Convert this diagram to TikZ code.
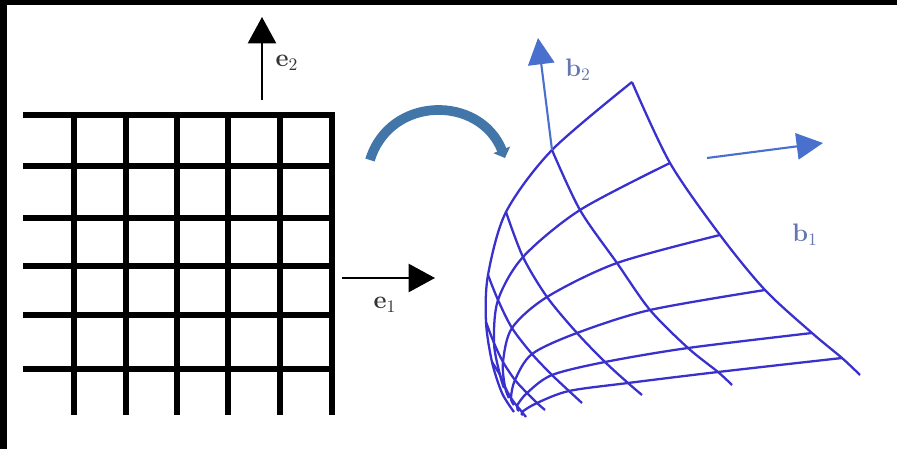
\documentclass[tikz,border=0pt]{standalone}
\usepackage{amsmath,amssymb}
\usepackage{xcolor}
\usepackage{tikz}
\usetikzlibrary{arrows.meta}

\definecolor{warpblue}{RGB}{58,48,205}
\definecolor{arrowblue}{RGB}{74,112,205}
\definecolor{labelblue}{RGB}{100,120,175}
\definecolor{steelturn}{RGB}{66,117,168}

\begin{document}
\begin{tikzpicture}[
		x=0.02cm, y=-0.02cm,
		gridline/.style={draw=black, line width=3pt},
		warpline/.style={draw=warpblue, line width=1.3pt},
		basis/.style={draw=black, line width=1.2pt, -{Triangle[width=16pt,length=15pt]}},
		bbasis/.style={draw=arrowblue, line width=1.2pt, -{Triangle[width=15pt,length=15pt]}},
		turn/.style={draw=steelturn, line width=5.5pt, -{Triangle[width=10pt,length=5pt]}},
		elabel/.style={font=\fontsize{14}{16}\selectfont, text=black!80},
		blabel/.style={font=\fontsize{14}{16}\selectfont, text=labelblue},
		]
		
		\fill[black] (0,0) rectangle (897,449);
		\fill[white] (7,5) rectangle (897,449);
		\useasboundingbox (0,0) rectangle (897,449);
		
		% square grid
		\foreach \y in {115,166,218,266,315,369}
			\draw[gridline] (23,\y) -- (333,\y);
		\foreach \x in {74,126,177,228,280,332}
			\draw[gridline] (\x,112) -- (\x,415);
		
		\coordinate (e2tail) at (262,100);
		\coordinate (e2tip) at (262,17);
		\coordinate (e1tail) at (342,278);
		\coordinate (e1tip) at (435,278);
		\draw[basis] (e2tail) -- (e2tip);
		\draw[basis] (e1tail) -- (e1tip);
		\node[elabel] (e2lab) at (287,63) {$\mathbf{e}_2$};
		\node[elabel] (e1lab) at (385,305) {$\mathbf{e}_1$};
		
		% curved arrow
		\coordinate (turnfrom) at (370,160);
		\coordinate (turnto) at (505,158);
		\draw[turn] (turnfrom) .. controls (390,95) and (480,95) .. (turnto);
		
		% warped grid
		\draw[warpline] plot[smooth] coordinates {(632,82) (552,150) (506,212) (488,275) (486,322) (492,362) (502,393) (514,412)};
		\draw[warpline] plot[smooth] coordinates {(670,163) (580,210) (523,257) (498,300) (494,343) (500,375) (504,388)};
		\draw[warpline] plot[smooth] coordinates {(720,235) (617,263) (547,297) (512,328) (503,362) (505,387) (509,398)};
		\draw[warpline] plot[smooth] coordinates {(765,290) (650,310) (577,333) (532,354) (515,380) (511,398) (514,405)};
		\draw[warpline] plot[smooth] coordinates {(812,333) (688,348) (605,362) (552,375) (527,393) (517,406) (519,411)};
		\draw[warpline] plot[smooth] coordinates {(842,358) (718,372) (628,383) (569,391) (537,403) (522,412) (523,415)};
		
		\draw[warpline] plot[smooth] coordinates {(492,362) (500,375) (505,387) (511,398) (517,406) (522,412) (526,417)};
		\draw[warpline] plot[smooth] coordinates {(486,322) (494,343) (503,362) (515,380) (527,393) (537,403) (545,410)};
		\draw[warpline] plot[smooth] coordinates {(488,275) (498,300) (512,328) (532,354) (552,375) (569,391) (582,403)};
		\draw[warpline] plot[smooth] coordinates {(506,212) (523,257) (547,297) (577,333) (605,362) (628,383) (642,395)};
		\draw[warpline] plot[smooth] coordinates {(552,150) (580,210) (617,263) (650,310) (688,348) (718,372) (732,385)};
		\draw[warpline] plot[smooth] coordinates {(632,82) (670,163) (720,235) (765,290) (812,333) (842,358) (860,375)};
		
		\coordinate (b2tail) at (552,150);
		\coordinate (b2tip) at (538,38);
		\coordinate (b1tail) at (707,158);
		\coordinate (b1tip) at (823,143);
		\draw[bbasis] (b2tail) -- (b2tip);
		\draw[bbasis] (b1tail) -- (b1tip);
		\node[blabel] (b2lab) at (578,70) {$\mathbf{b}_2$};
		\node[blabel] (b1lab) at (805,235) {$\mathbf{b}_1$};
		
\end{tikzpicture}
\end{document}
